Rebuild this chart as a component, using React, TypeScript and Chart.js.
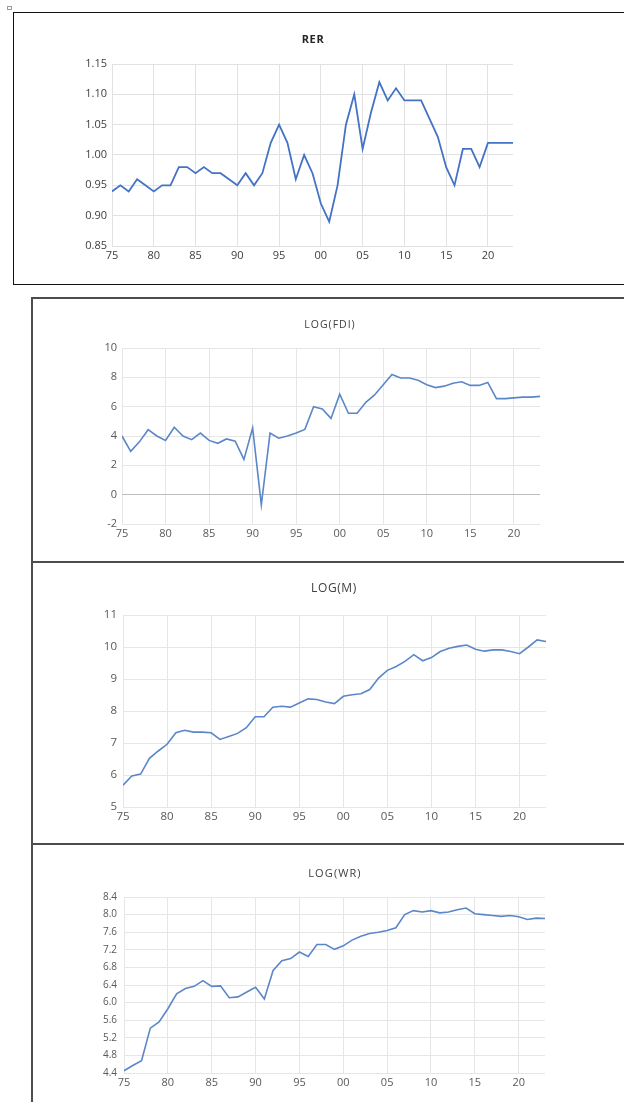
import React, { useEffect, useRef } from "react";
import { Chart, registerables } from "chart.js";

Chart.register(...registerables);

// ---------- data ----------
const years = [
  1975, 1976, 1977, 1978, 1979, 1980, 1981, 1982, 1983, 1984,
  1985, 1986, 1987, 1988, 1989, 1990, 1991, 1992, 1993, 1994,
  1995, 1996, 1997, 1998, 1999, 2000, 2001, 2002, 2003, 2004,
  2005, 2006, 2007, 2008, 2009, 2010, 2011, 2012, 2013, 2014,
  2015, 2016, 2017, 2018, 2019, 2020, 2021, 2022, 2023,
];

const rer = [
  0.94, 0.95, 0.94, 0.96, 0.95, 0.94, 0.95, 0.95, 0.98, 0.98,
  0.97, 0.98, 0.97, 0.97, 0.96, 0.95, 0.97, 0.95, 0.97, 1.02,
  1.05, 1.02, 0.96, 1.0, 0.97, 0.92, 0.89, 0.95, 1.05, 1.1,
  1.01, 1.07, 1.12, 1.09, 1.11, 1.09, 1.09, 1.09, 1.06, 1.03,
  0.98, 0.95, 1.01, 1.01, 0.98, 1.02, 1.02, 1.02, 1.02,
];

const logFdi = [
  4.0, 2.95, 3.6, 4.43, 4.0, 3.7, 4.6, 4.0, 3.75, 4.2,
  3.7, 3.5, 3.8, 3.65, 2.4, 4.55, -0.7, 4.2, 3.85, 4.0,
  4.2, 4.45, 6.0, 5.85, 5.2, 6.85, 5.55, 5.55, 6.3, 6.8,
  7.5, 8.2, 7.95, 7.95, 7.8, 7.5, 7.3, 7.4, 7.6, 7.7,
  7.45, 7.45, 7.65, 6.55, 6.55, 6.6, 6.65, 6.65, 6.7,
];

const logM = [
  5.68, 5.97, 6.03, 6.52, 6.75, 6.96, 7.32, 7.4, 7.34, 7.34,
  7.32, 7.11, 7.2, 7.3, 7.48, 7.82, 7.82, 8.12, 8.15, 8.12,
  8.25, 8.38, 8.36, 8.28, 8.23, 8.46, 8.51, 8.54, 8.67, 9.03,
  9.27, 9.39, 9.55, 9.76, 9.57, 9.67, 9.86, 9.96, 10.02, 10.06,
  9.93, 9.87, 9.91, 9.91, 9.86, 9.79, 10.0, 10.22, 10.17,
];

const logWr = [
  4.45, 4.57, 4.68, 5.42, 5.56, 5.86, 6.2, 6.32, 6.37, 6.5,
  6.37, 6.38, 6.11, 6.13, 6.24, 6.35, 6.08, 6.73, 6.95, 7.0,
  7.15, 7.05, 7.32, 7.32, 7.21, 7.29, 7.42, 7.51, 7.57, 7.6,
  7.64, 7.7, 8.0, 8.09, 8.06, 8.09, 8.04, 8.06, 8.11, 8.15,
  8.02, 8.0, 7.98, 7.96, 7.98, 7.95, 7.89, 7.92, 7.91,
];

const xTickValues = [1975, 1980, 1985, 1990, 1995, 2000, 2005, 2010, 2015, 2020];
const xTickLabels = ["75", "80", "85", "90", "95", "00", "05", "10", "15", "20"];

const rerTicks = [0.85, 0.9, 0.95, 1.0, 1.05, 1.1, 1.15];
const fdiTicks = [-2, 0, 2, 4, 6, 8, 10];
const mTicks = [5, 6, 7, 8, 9, 10, 11];
const wrTicks = [4.4, 4.8, 5.2, 5.6, 6.0, 6.4, 6.8, 7.2, 7.6, 8.0, 8.4];

// ---------- layout / style ----------
type PanelCfg = {
  title: string;
  values: number[];
  yTicks: number[];
  decimals: number;
  canvas: { left: number; top: number; w: number; h: number };
  area: { l: number; r: number; t: number; b: number };
  yGap: number;
  xGap: number;
  tickFont: number;
  yTickFont: number;
  tickColor: string;
  lineColor: string;
  lineWidth: number;
  gridColor: string;
  zeroColor?: string;
  titleStyle: React.CSSProperties;
};

const FONT = "'Open Sans', 'DejaVu Sans', sans-serif";

const panels: PanelCfg[] = [
  {
    title: "RER",
    values: rer,
    yTicks: rerTicks,
    decimals: 2,
    canvas: { left: 14, top: 13, w: 610, h: 270 },
    area: { l: 112, r: 513, t: 64, b: 246 },
    yGap: 5,
    xGap: 3,
    tickFont: 11,
    yTickFont: 11,
    tickColor: "#404040",
    lineColor: "#4472c4",
    lineWidth: 1.8,
    gridColor: "#e2e2e2",
    titleStyle: { left: 313, top: 38, fontSize: 11, fontWeight: 700, color: "#262626", letterSpacing: 0.6 },
  },
  {
    title: "LOG(FDI)",
    values: logFdi,
    yTicks: fdiTicks,
    decimals: 0,
    canvas: { left: 34, top: 300, w: 590, h: 261 },
    area: { l: 122, r: 540, t: 348, b: 524 },
    yGap: 5,
    xGap: 3,
    tickFont: 11,
    yTickFont: 11,
    tickColor: "#595959",
    lineColor: "#5b87c9",
    lineWidth: 1.6,
    gridColor: "#e6e6e6",
    zeroColor: "#bdbdbd",
    titleStyle: { left: 330, top: 324, fontSize: 10.5, fontWeight: 400, color: "#404040", letterSpacing: 1 },
  },
  {
    title: "LOG(M)",
    values: logM,
    yTicks: mTicks,
    decimals: 0,
    canvas: { left: 34, top: 564, w: 590, h: 279 },
    area: { l: 123, r: 546, t: 615, b: 807 },
    yGap: 6,
    xGap: 3,
    tickFont: 11.5,
    yTickFont: 11.5,
    tickColor: "#595959",
    lineColor: "#5b87c9",
    lineWidth: 1.6,
    gridColor: "#e6e6e6",
    titleStyle: { left: 334, top: 588, fontSize: 12, fontWeight: 400, color: "#404040", letterSpacing: 0.6 },
  },
  {
    title: "LOG(WR)",
    values: logWr,
    yTicks: wrTicks,
    decimals: 1,
    canvas: { left: 34, top: 846, w: 590, h: 256 },
    area: { l: 124, r: 545, t: 897, b: 1073 },
    yGap: 7,
    xGap: 3,
    tickFont: 11,
    yTickFont: 10,
    tickColor: "#595959",
    lineColor: "#5b87c9",
    lineWidth: 1.6,
    gridColor: "#e6e6e6",
    titleStyle: { left: 335, top: 872, fontSize: 11, fontWeight: 400, color: "#404040", letterSpacing: 1.1 },
  },
];

function Panel({ cfg }: { cfg: PanelCfg }) {
  const ref = useRef<HTMLCanvasElement>(null);

  useEffect(() => {
    const c = cfg;
    const canvasRight = c.canvas.left + c.canvas.w;
    const canvasBottom = c.canvas.top + c.canvas.h;
    const chart = new Chart(ref.current as HTMLCanvasElement, {
      type: "line",
      data: {
        datasets: [
          {
            data: c.values.map((v, i) => ({ x: years[i], y: v })),
            borderColor: c.lineColor,
            borderWidth: c.lineWidth,
            pointRadius: 0,
            tension: 0,
            fill: false,
          },
        ],
      },
      options: {
        responsive: false,
        animation: false,
        devicePixelRatio: 1,
        layout: {
          padding: {
            left: 0,
            top: c.area.t - c.canvas.top,
            right: canvasRight - c.area.r,
            bottom: 0,
          },
        },
        plugins: {
          legend: { display: false },
          tooltip: { enabled: false },
          title: { display: false },
        },
        scales: {
          x: {
            type: "linear",
            min: years[0],
            max: years[years.length - 1],
            afterFit: (s: any) => {
              s.height = canvasBottom - c.area.b;
            },
            afterBuildTicks: (s: any) => {
              s.ticks = xTickValues.map((v) => ({ value: v }));
            },
            ticks: {
              autoSkip: false,
              maxRotation: 0,
              padding: c.xGap,
              color: c.tickColor,
              font: { family: FONT, size: c.tickFont },
              callback: (_v: any, i: number) => xTickLabels[i],
            },
            grid: { color: c.gridColor, drawTicks: false, lineWidth: 1 },
            border: { display: false },
          },
          y: {
            type: "linear",
            min: c.yTicks[0],
            max: c.yTicks[c.yTicks.length - 1],
            afterFit: (s: any) => {
              s.width = c.area.l - c.canvas.left;
            },
            afterBuildTicks: (s: any) => {
              s.ticks = c.yTicks.map((v) => ({ value: v }));
            },
            ticks: {
              padding: c.yGap,
              color: c.tickColor,
              font: { family: FONT, size: c.yTickFont },
              callback: (v: any) => Number(v).toFixed(c.decimals),
            },
            grid: {
              drawTicks: false,
              lineWidth: 1,
              color: (ctx: any) =>
                c.zeroColor && ctx.tick && Math.abs(ctx.tick.value) < 1e-9 ? c.zeroColor : c.gridColor,
            },
            border: { display: false },
          },
        },
      },
    } as any);
    return () => chart.destroy();
  }, [cfg]);

  return (
    <>
      <canvas
        ref={ref}
        width={cfg.canvas.w}
        height={cfg.canvas.h}
        style={{
          position: "absolute",
          left: cfg.canvas.left,
          top: cfg.canvas.top,
          width: cfg.canvas.w,
          height: cfg.canvas.h,
        }}
      />
      <div
        style={{
          position: "absolute",
          transform: "translate(-50%, -50%)",
          whiteSpace: "nowrap",
          fontFamily: FONT,
          lineHeight: 1,
          ...cfg.titleStyle,
        }}
      >
        {cfg.title}
      </div>
    </>
  );
}

export default function App() {
  return (
    <div
      style={{
        position: "absolute",
        left: 0,
        top: 0,
        width: 624,
        height: 1102,
        overflow: "hidden",
        background: "#ffffff",
      }}
    >
      {/* small marker at top-left */}
      <div style={{ position: "absolute", left: 7, top: 6, width: 3, height: 2, border: "1px solid #9a9a9a" }} />
      {/* panel frames */}
      <div style={{ position: "absolute", left: 13, top: 12, width: 700, height: 273, border: "1px solid #111", boxSizing: "border-box" }} />
      <div style={{ position: "absolute", left: 31, top: 297, width: 700, height: 266, border: "2px solid #4d4d4d", boxSizing: "border-box" }} />
      <div style={{ position: "absolute", left: 31, top: 561, width: 700, height: 284, border: "2px solid #4d4d4d", boxSizing: "border-box" }} />
      <div style={{ position: "absolute", left: 31, top: 843, width: 700, height: 300, border: "2px solid #4d4d4d", boxSizing: "border-box" }} />
      {panels.map((p) => (
        <Panel key={p.title} cfg={p} />
      ))}
    </div>
  );
}
